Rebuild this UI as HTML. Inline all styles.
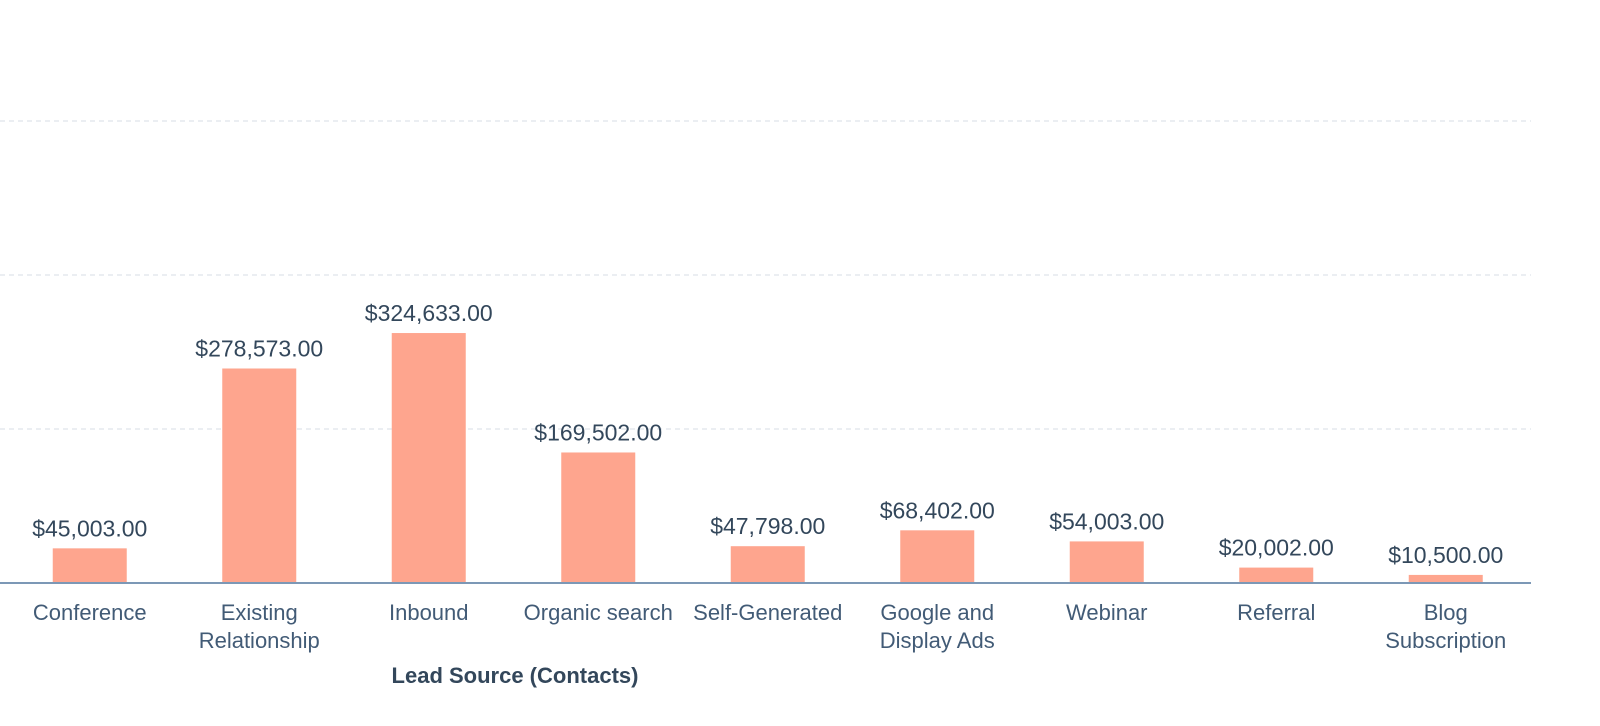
<!DOCTYPE html>
<html><head><meta charset="utf-8"><style>
body{margin:0;background:#fff;font-family:"Liberation Sans",sans-serif;}
svg text{font-family:"Liberation Sans",sans-serif;}
</style></head><body>
<svg width="1600" height="721" xmlns="http://www.w3.org/2000/svg">
<g id="grid"></g><g id="bars"></g><g id="labels"></g>
<text x="515" y="683" text-anchor="middle" font-size="22" font-weight="bold" fill="#33475b">Lead Source (Contacts)</text>
</svg>
<script>
const categories=[["Conference"],["Existing","Relationship"],["Inbound"],["Organic search"],["Self-Generated"],["Google and","Display Ads"],["Webinar"],["Referral"],["Blog","Subscription"]];
const values=[45003,278573,324633,169502,47798,68402,54003,20002,10500];
const valueLabels=["$45,003.00","$278,573.00","$324,633.00","$169,502.00","$47,798.00","$68,402.00","$54,003.00","$20,002.00","$10,500.00"];
const gridTicks=[200000,400000,600000];
const NS="http://www.w3.org/2000/svg";
const base=583, top0=121, maxV=600000, x0=5, band=169.5, bw=74, right=1531;
const y=v=>base-(v/maxV)*(base-top0);
const x=i=>x0+band*i+band/2;
function mk(t,a,p){const e=document.createElementNS(NS,t);for(const k in a)e.setAttribute(k,a[k]);p.appendChild(e);return e;}
const g=document.getElementById('grid'),b=document.getElementById('bars'),l=document.getElementById('labels');
gridTicks.forEach(t=>{const e=mk('line',{x1:0,x2:right,y1:y(t),y2:y(t),stroke:'#dfe3eb','stroke-dasharray':'5,4','stroke-width':1.2},g);

});
values.forEach((v,i)=>{
const r=mk('rect',{x:x(i)-bw/2,y:y(v),width:bw,height:base-y(v),fill:'#fea58e'},b);


const t=mk('text',{x:x(i),y:y(v)-12,'text-anchor':'middle','font-size':23,fill:'#33475b'},l);
t.textContent=valueLabels[i];


categories[i].forEach((s,j)=>{const c=mk('text',{x:x(i),y:620+j*28,'text-anchor':'middle','font-size':22,fill:'#425b76'},l);
c.textContent=s;

});
});
const ax=mk('line',{x1:0,x2:right,y1:base,y2:base,stroke:'#7c98b6','stroke-width':2},l);


</script>
</body></html>
